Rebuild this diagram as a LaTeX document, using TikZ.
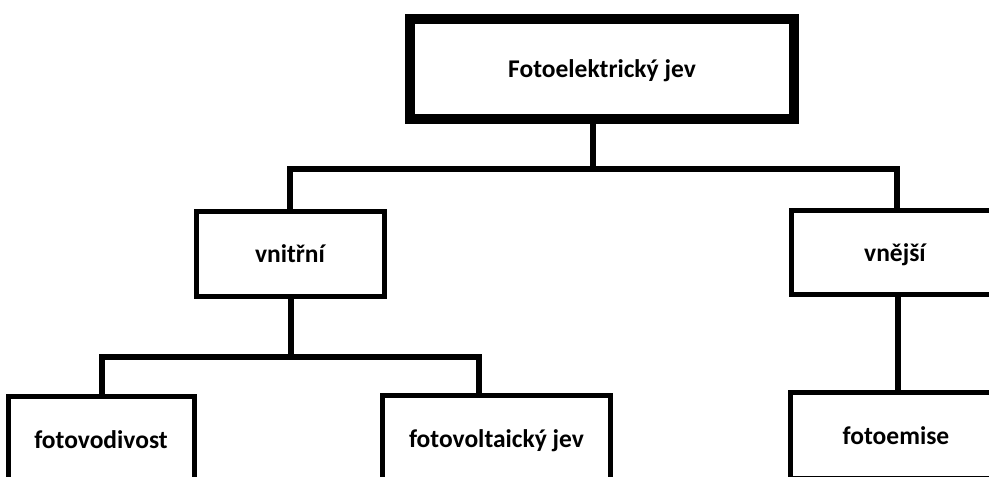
\documentclass[tikz,border=0pt]{standalone}
\usepackage{fontspec}
\setmainfont{Carlito}
\begin{document}
\begin{tikzpicture}[x=1pt,y=-1pt,
  box/.style={draw=black,line width=5pt,fill=white,inner sep=0pt,
    text height=19pt,text depth=2pt,
    font=\bfseries\fontsize{25.5}{30}\selectfont,text=black},
  conn/.style={draw=black,line width=5.5pt,line join=miter}]
\useasboundingbox (0,0) rectangle (989,477);
\clip (0,0) rectangle (989,477);
% nodes
\node[box,line width=10pt,minimum width=384pt,minimum height=100pt] (top) at (602,69) {Fotoelektrický jev};
\node[box,minimum width=188pt,minimum height=85pt] (vn) at (290,254) {vnitřní};
\node[box,minimum width=207pt,minimum height=84pt] (ve) at (895,252.5) {vnější};
\node[box,minimum width=186pt,minimum height=86pt] (fvd) at (101,439.5) {fotovodivost};
\node[box,minimum width=228pt,minimum height=86pt] (fvj) at (496.5,438.5) {fotovoltaický jev};
\node[box,minimum width=211pt,minimum height=86pt] (fe) at (896,435.5) {fotoemise};
% junction coordinates
\coordinate (j1) at (593,169);
\coordinate (j2) at (291,357);
\coordinate (x0) at (897,0);
\coordinate (x1) at (102,0);
\coordinate (x2) at (479,0);
\coordinate (x3) at (898,0);
% connectors
\draw[conn] (top.south -| j1) -- (j1);
\draw[conn] (vn.north) |- (j1) -| (ve.north -| x0);
\draw[conn] (vn.south -| j2) -- (j2);
\draw[conn] (fvd.north -| x1) |- (j2) -| (fvj.north -| x2);
\draw[conn] (ve.south -| x3) -- (fe.north -| x3);
\end{tikzpicture}
\end{document}
